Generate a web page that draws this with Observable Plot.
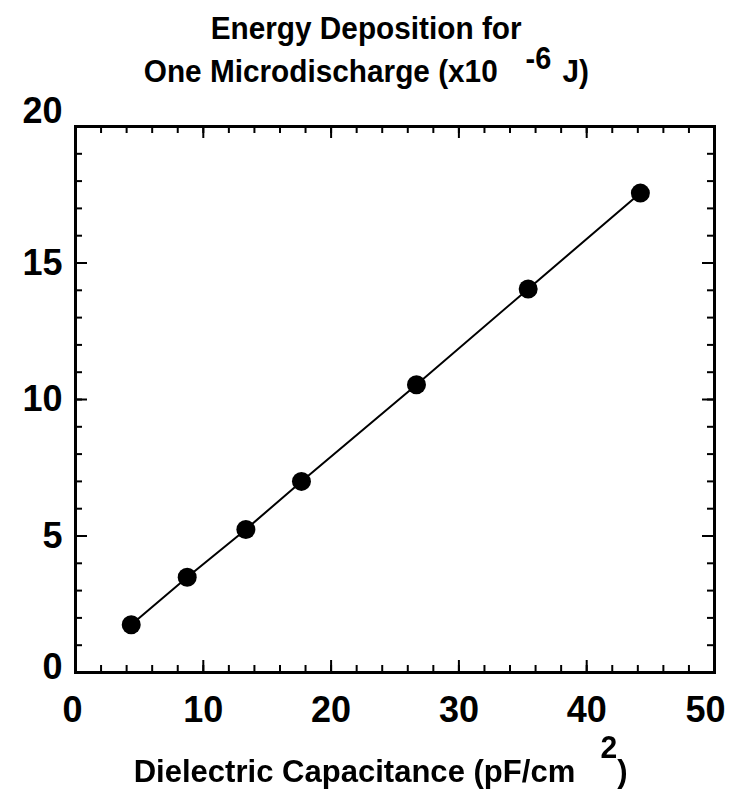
<!DOCTYPE html>
<html>
<head>
<meta charset="utf-8">
<script src="https://cdn.jsdelivr.net/npm/d3@7"></script>
<script src="https://cdn.jsdelivr.net/npm/@observablehq/plot@0.6"></script>
<style>
  html, body { margin: 0; padding: 0; background: #fff; }
  #fig { position: relative; width: 733px; height: 792px; color: #000;
         font-family: "Liberation Sans", Arial, Helvetica, sans-serif; font-weight: bold; }
  #fig svg { position: absolute; left: 0; top: 0; }
  .t { position: absolute; left: 0; width: 733px; box-sizing: border-box; text-align: center;
       white-space: pre; font-size: 32px; line-height: 1; }
  .t > span.inner { display: inline-block; transform: scaleX(0.93); }
  .sup { position: relative; display: inline-block; font-size: 31px; }
</style>
</head>
<body>
<div id="fig">
  <div class="t" style="top:12px"><span class="inner">Energy Deposition for</span></div>
  <div class="t" style="top:55px"><span class="inner">One Microdischarge (x10<span class="sup" style="top:-13px;margin-left:30px;margin-right:12px">-6</span>J)</span></div>
  <div class="t" style="top:755px;padding-left:28px"><span class="inner" style="transform:scaleX(0.97)">Dielectric Capacitance (pF/cm<span class="sup" style="top:-24px;margin-left:26px">2</span>)</span></div>
</div>
<script>
// Dielectric capacitance (pF/cm^2) and energy per microdischarge (x10^-6 J)
const capacitance = [4.36, 8.74, 13.33, 17.68, 26.68, 35.42, 44.2];
const energy      = [1.75, 3.49, 5.24, 7.0, 10.54, 14.05, 17.56];

// Axis ticks
const xTickLabels = [0, 10, 20, 30, 40, 50];
const yTickLabels = [0, 5, 10, 15, 20];
const xMinorTicks = d3.range(0, 51, 2);
const yMinorTicks = d3.range(0, 21, 1);

const points = capacitance.map((c, i) => ({c, e: energy[i]}));

const W = 733, H = 792;
const mt = 126, mb = 120, ml = 75, mr = 19;
const innerW = W - ml - mr, innerH = H - mt - mb;
const minorLen = 7, majorLen = 12;
const font = "Liberation Sans, Arial, Helvetica, sans-serif";
const labelStyle = {fontSize: 36, fontWeight: "bold", fill: "black"};

const xFirst = xTickLabels[0], xLast = xTickLabels[xTickLabels.length - 1];
const yFirst = yTickLabels[0], yLast = yTickLabels[yTickLabels.length - 1];

const chart = Plot.plot({
  width: W, height: H,
  marginTop: mt, marginBottom: mb, marginLeft: ml, marginRight: mr,
  style: {fontFamily: font, background: "white"},
  x: {domain: [0, 50], axis: null},
  y: {domain: [0, 20], axis: null},
  marks: [
    // inward ticks on all four sides
    Plot.tickX(xMinorTicks, {x: d => d, insetTop: innerH - minorLen, stroke: "black", strokeWidth: 2}),
    Plot.tickX(xMinorTicks, {x: d => d, insetBottom: innerH - minorLen, stroke: "black", strokeWidth: 2}),
    Plot.tickX(xTickLabels, {x: d => d, insetTop: innerH - majorLen, stroke: "black", strokeWidth: 2}),
    Plot.tickX(xTickLabels, {x: d => d, insetBottom: innerH - majorLen, stroke: "black", strokeWidth: 2}),
    Plot.tickY(yMinorTicks, {y: d => d, insetRight: innerW - minorLen, stroke: "black", strokeWidth: 2}),
    Plot.tickY(yMinorTicks, {y: d => d, insetLeft: innerW - minorLen, stroke: "black", strokeWidth: 2}),
    Plot.tickY(yTickLabels, {y: d => d, insetRight: innerW - majorLen, stroke: "black", strokeWidth: 2}),
    Plot.tickY(yTickLabels, {y: d => d, insetLeft: innerW - majorLen, stroke: "black", strokeWidth: 2}),
    Plot.frame({stroke: "black", strokeWidth: 3}),
    // x tick labels (end labels nudged inward)
    Plot.text(xTickLabels, {filter: d => d !== xFirst && d !== xLast, x: d => d, text: d => String(d),
      frameAnchor: "bottom", dy: 49, ...labelStyle}),
    Plot.text(xTickLabels, {filter: d => d === xFirst, x: d => d, text: d => String(d),
      frameAnchor: "bottom", dy: 49, dx: -3, ...labelStyle}),
    Plot.text(xTickLabels, {filter: d => d === xLast, x: d => d, text: d => String(d),
      frameAnchor: "bottom", dy: 49, dx: -9, ...labelStyle}),
    // y tick labels
    Plot.text(yTickLabels, {filter: d => d !== yFirst && d !== yLast, y: d => d, text: d => String(d),
      frameAnchor: "left", textAnchor: "end", dx: -13, ...labelStyle}),
    Plot.text(yTickLabels, {filter: d => d === yFirst, y: d => d, text: d => String(d),
      frameAnchor: "left", textAnchor: "end", dx: -13, dy: -5, ...labelStyle}),
    Plot.text(yTickLabels, {filter: d => d === yLast, y: d => d, text: d => String(d),
      frameAnchor: "left", textAnchor: "end", dx: -13, dy: -15, ...labelStyle}),
    // data
    Plot.line(points, {x: "c", y: "e", stroke: "black", strokeWidth: 2}),
    Plot.dot(points, {x: "c", y: "e", r: 9.5, fill: "black", stroke: "none"})
  ]
});
document.getElementById("fig").prepend(chart);
</script>
</body>
</html>
